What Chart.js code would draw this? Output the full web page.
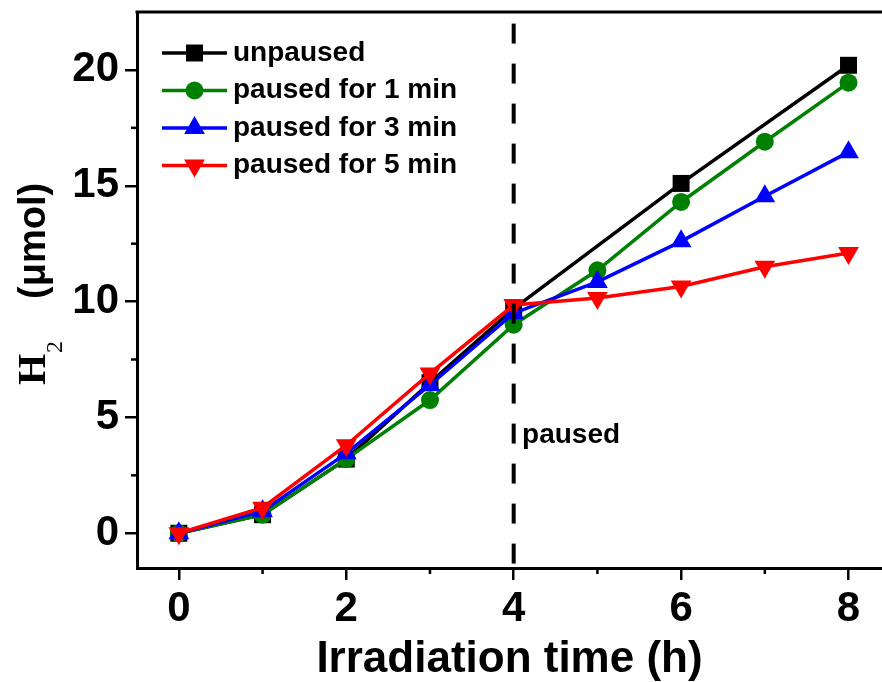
<!DOCTYPE html>
<html lang="en">

<head>
    <meta charset="UTF-8">
    <script src="https://cdn.jsdelivr.net/npm/chart.js"></script>
    <title>H2 evolution</title>
    <style>
        body { margin: 0; background: #fff; }
    </style>
</head>

<body>
    <canvas id="grafico" width="882" height="682"></canvas>
</body>

</html>
<script>
    // dados
    const horas = [0, 1, 2, 3, 4, 5, 6, 7, 8];
    const unpaused = [0, 0.8, 3.2, 6.5, 9.7, null, 15.1, null, 20.2];
    const paused1 = [0, 0.8, 3.2, 5.75, 9.0, 11.35, 14.3, 16.9, 19.45];
    const paused3 = [0, 0.95, 3.45, 6.4, 9.5, 10.85, 12.6, 14.55, 16.45];
    const paused5 = [0, 1.1, 3.8, 6.9, 9.85, 10.15, 10.65, 11.5, 12.1];
    const nomes = ['unpaused', 'paused for 1 min', 'paused for 3 min', 'paused for 5 min'];

    const xTicks = [0, 2, 4, 6, 8];
    const xMinor = [1, 3, 5, 7];
    const yTicks = [0, 5, 10, 15, 20];
    const yMinor = [2.5, 7.5, 12.5, 17.5];
    const pausa = 4;
    const textoPausa = 'paused';

    function pontos(valores) {
        return horas.map((h, i) => ({ x: h, y: valores[i] })).filter(p => p.y !== null);
    }

    function serie(label, valores, cor, estilo, raio, rot, ordem) {
        return {
            label: label,
            data: pontos(valores),
            borderColor: cor,
            backgroundColor: cor,
            pointBackgroundColor: cor,
            pointBorderColor: cor,
            pointBorderWidth: 0,
            pointStyle: estilo,
            pointRadius: raio,
            pointRotation: rot,
            borderWidth: 3.5,
            tension: 0,
            order: ordem
        };
    }

    const sans = "'Liberation Sans', Arial, sans-serif";
    const serif = "'Liberation Serif', 'Times New Roman', serif";

    // eixos extras, linha tracejada, legenda, titulo do eixo y
    const extras = {
        id: 'extras',
        afterDraw(chart) {
            const ctx = chart.ctx;
            const area = chart.chartArea;
            const xs = chart.scales.x;
            const ys = chart.scales.y;
            ctx.save();

            // borda de cima
            ctx.strokeStyle = '#000';
            ctx.lineWidth = 3;
            ctx.beginPath();
            ctx.moveTo(area.left - 1.5, area.top);
            ctx.lineTo(area.right, area.top);
            ctx.stroke();

            // ticks menores
            ctx.lineWidth = 2.5;
            yMinor.forEach(v => {
                const y = ys.getPixelForValue(v);
                ctx.beginPath();
                ctx.moveTo(area.left - 6, y);
                ctx.lineTo(area.left, y);
                ctx.stroke();
            });
            xMinor.forEach(v => {
                const x = xs.getPixelForValue(v);
                ctx.beginPath();
                ctx.moveTo(x, area.bottom);
                ctx.lineTo(x, area.bottom + 6);
                ctx.stroke();
            });

            // linha da pausa
            const xp = xs.getPixelForValue(pausa);
            ctx.lineWidth = 4;
            ctx.setLineDash([20, 20]);
            ctx.beginPath();
            ctx.moveTo(xp, ys.getPixelForValue(22));
            ctx.lineTo(xp, area.bottom);
            ctx.stroke();
            ctx.setLineDash([]);

            ctx.fillStyle = '#000';
            ctx.font = 'bold 28px ' + sans;
            ctx.textAlign = 'left';
            ctx.textBaseline = 'alphabetic';
            ctx.fillText(textoPausa, xs.getPixelForValue(4.1), ys.getPixelForValue(3.9));

            // legenda
            const ds = chart.data.datasets;
            ds.forEach((d, i) => {
                const y = 53 + i * 37.5;
                ctx.strokeStyle = d.borderColor;
                ctx.fillStyle = d.borderColor;
                ctx.lineWidth = 3.5;
                ctx.beginPath();
                ctx.moveTo(162, y);
                ctx.lineTo(227, y);
                ctx.stroke();
                Chart.helpers.drawPoint(ctx, {
                    pointStyle: d.pointStyle,
                    radius: d.pointRadius,
                    rotation: d.pointRotation,
                    borderWidth: 0
                }, 194.5, y);
                ctx.fillStyle = '#000';
                ctx.font = 'bold 28px ' + sans;
                ctx.textBaseline = 'middle';
                ctx.fillText(d.label, 233, y);
            });

            // titulo do eixo y: H2 (umol)
            ctx.translate(45, 385);
            ctx.rotate(-Math.PI / 2);
            ctx.textBaseline = 'alphabetic';
            ctx.fillStyle = '#000';
            ctx.font = 'bold 40px ' + serif;
            ctx.fillText('H', 0, 0);
            let pos = ctx.measureText('H').width;
            ctx.font = '24px ' + serif;
            ctx.fillText('2', pos + 1, 17);
            ctx.font = 'bold 38px ' + sans;
            ctx.fillText('(μmol)', 86, 0);

            ctx.restore();
        }
    };

    const config = {
        type: 'line',
        data: {
            datasets: [
                serie(nomes[3], paused5, '#ff0000', 'triangle', 12, 180, 1),
                serie(nomes[2], paused3, '#0000ff', 'triangle', 12, 0, 2),
                serie(nomes[1], paused1, '#008000', 'circle', 9, 0, 3),
                serie(nomes[0], unpaused, '#000000', 'rect', 12, 0, 4)
            ].reverse()
        },
        options: {
            responsive: false,
            animation: false,
            layout: { autoPadding: false, padding: { top: 12, right: 0, bottom: 0, left: 0 } },
            plugins: {
                legend: { display: false },
                tooltip: { enabled: false }
            },
            scales: {
                x: {
                    type: 'linear',
                    min: -0.5,
                    max: 8.4,
                    afterBuildTicks: s => { s.ticks = xTicks.map(v => ({ value: v })); },
                    afterFit: s => { s.height = 114; s.paddingLeft = 0; s.paddingRight = 0; },
                    grid: { drawOnChartArea: false, drawTicks: true, tickLength: 12, lineWidth: 2.5, color: '#000' },
                    border: { display: true, color: '#000', width: 3 },
                    ticks: { color: '#000', font: { family: sans, size: 42, weight: 'bold' }, padding: 4, maxRotation: 0, autoSkip: false },
                    title: { display: true, text: 'Irradiation time (h)', color: '#000', font: { family: sans, size: 44, weight: 'bold', lineHeight: 1 }, padding: 0 }
                },
                y: {
                    min: -1.5,
                    max: 22.5,
                    afterBuildTicks: s => { s.ticks = yTicks.map(v => ({ value: v })); },
                    afterFit: s => { s.width = 137; s.paddingTop = 0; s.paddingBottom = 0; },
                    grid: { drawOnChartArea: false, drawTicks: true, tickLength: 12, lineWidth: 2.5, color: '#000' },
                    border: { display: true, color: '#000', width: 3 },
                    ticks: { color: '#000', font: { family: sans, size: 42, weight: 'bold' }, padding: 6 }
                }
            }
        },
        plugins: [extras]
    };

    new Chart(document.getElementById('grafico'), config);
</script>
